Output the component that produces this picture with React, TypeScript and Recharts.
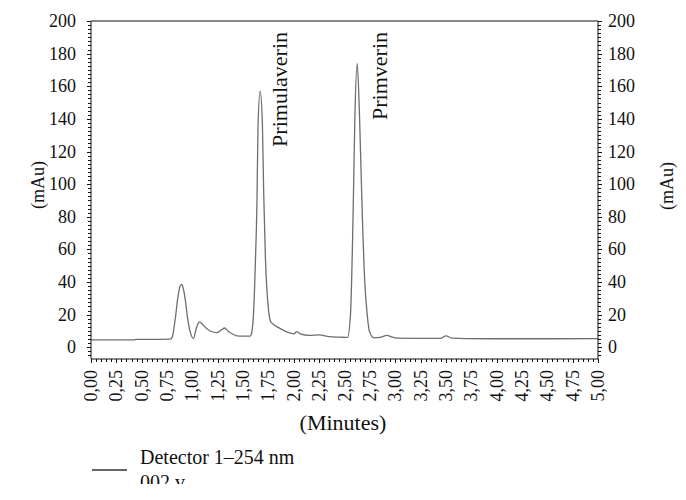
import React from 'react'
import { LineChart, Line, XAxis, YAxis } from 'recharts'

const times = [
  0, 0.25, 0.43, 0.44, 0.6, 0.78, 0.8, 0.83, 0.86, 0.88, 0.896, 0.91, 0.93, 0.952, 0.98, 1.01, 1.04, 1.07, 1.1, 1.14,
  1.18, 1.24, 1.29, 1.317, 1.35, 1.4, 1.44, 1.5, 1.57, 1.585, 1.604, 1.62, 1.637, 1.647, 1.668, 1.69, 1.703, 1.72,
  1.752, 1.77, 1.8, 1.85, 1.93, 2.0, 2.03, 2.07, 2.15, 2.25, 2.35, 2.45, 2.53, 2.559, 2.585, 2.602, 2.625, 2.648,
  2.675, 2.7, 2.724, 2.745, 2.79, 2.85, 2.92, 2.97, 3.02, 3.2, 3.45, 3.5, 3.56, 3.7, 4.0, 4.5, 5.0,
]
const mau = [
  4.5, 4.5, 4.5, 4.8, 4.8, 5, 6, 17, 32, 37.5, 38.5, 36, 29, 18, 9, 5.5, 12, 15.5, 14, 11.5,
  9.8, 9, 10.8, 11.8, 10, 8, 7, 6.8, 6.8, 9, 22, 50, 90, 135, 157, 138, 95, 55,
  22, 16, 14, 12, 9.4, 8.2, 9.6, 8, 7.3, 7.6, 6.5, 6.2, 6, 20, 82, 140, 174, 142,
  82, 40, 20, 10, 5.8, 6, 7.3, 6.2, 5.6, 5.5, 5.5, 7, 5.6, 5.3, 5.2, 5.2, 5.3,
]

// major ticks carry labels, minor ones are just short marks
const xMajorStep = 0.25
const yMajorStep = 20
const xTicks = Array.from({ length: 101 }, (_, i) => Math.round(i * 5) / 100)
const yTicks = Array.from({ length: 83 }, (_, i) => -5 + i * 2.5)

const data = times.map((t, i) => ({ t, v: mau[i] }))

const FONT = '"Liberation Serif", "Times New Roman", serif'
const INK = '#111'
const isMajor = (v: number, step: number) => Math.abs(v / step - Math.round(v / step)) < 1e-6
const fmtX = (v: number) => v.toFixed(2).replace('.', ',')

const XTick = ({ x, y, payload }: any) => {
  const major = isMajor(payload.value, xMajorStep)
  const ly = y + 11
  const px = Math.round(x) + 0.5
  return (
    <g>
      <line x1={px} x2={px} y1={y} y2={y + (major ? 4 : 3)} stroke={INK} shapeRendering="crispEdges" />
      {major && (
        <text x={x} y={ly} transform={`rotate(-90 ${x} ${ly})`} textAnchor="end" dominantBaseline="central"
          fontFamily={FONT} fontSize={18} fill={INK}>
          {fmtX(payload.value)}
        </text>
      )}
    </g>
  )
}

const YTick = ({ x, y, payload, side }: any) => {
  const v = payload.value
  const major = v >= 0 && isMajor(v, yMajorStep)
  const len = major ? 4 : 3
  const dir = side === 'left' ? -1 : 1
  const py = Math.round(y) + 0.5
  return (
    <g>
      <line x1={x} x2={x + dir * len} y1={py} y2={py} stroke={INK} shapeRendering="crispEdges" />
      {major && (
        <text x={side === 'left' ? x - 15 : x + 10} y={y} textAnchor={side === 'left' ? 'end' : 'start'}
          dominantBaseline="central" fontFamily={FONT} fontSize={18} fill={INK}>
          {v}
        </text>
      )}
    </g>
  )
}

export default function App() {
  return (
    <div style={{ position: 'absolute', left: 0, top: 0, width: 686, height: 500, background: '#fff' }}>
      <LineChart width={686} height={500} data={data} margin={{ top: 20, right: 48, left: 51, bottom: 91 }}>
        <XAxis dataKey="t" type="number" domain={[0, 5]} allowDataOverflow ticks={xTicks} interval={0} stroke={INK}
          tickLine={false} tickSize={0} tickMargin={0} height={50} tick={<XTick />} />
        <XAxis xAxisId="top" orientation="top" dataKey="t" type="number" domain={[0, 5]} allowDataOverflow
          height={1} stroke={INK} tick={false} tickLine={false} />
        <YAxis yAxisId="left" type="number" domain={[-7.2, 200]} allowDataOverflow ticks={yTicks} interval={0}
          width={40} stroke={INK} tickLine={false} tickSize={0} tickMargin={0} tick={<YTick side="left" />} />
        <YAxis yAxisId="right" orientation="right" type="number" domain={[-7.2, 200]} allowDataOverflow
          ticks={yTicks} interval={0} width={40} stroke={INK} tickLine={false} tickSize={0} tickMargin={0}
          tick={<YTick side="right" />} />
        <Line yAxisId="left" dataKey="v" type="monotone" stroke="#6e6e6e" strokeWidth={1.3}
          dot={false} isAnimationActive={false} />
        <Line xAxisId="top" yAxisId="right" dataKey="v" type="monotone" stroke="none" dot={false}
          legendType="none" isAnimationActive={false} />
      </LineChart>
      <svg width={686} height={500} style={{ position: 'absolute', left: 0, top: 0, pointerEvents: 'none' }}
        fontFamily={FONT} fill={INK}>
        <defs>
          <clipPath id="legclip"><rect x={0} y={0} width={686} height={484} /></clipPath>
        </defs>
        <text x={37.5} y={185} transform="rotate(-90 37.5 185)" textAnchor="middle" dominantBaseline="central" fontSize={18}>(mAu)</text>
        <text x={667} y={186} transform="rotate(-90 667 186)" textAnchor="middle" dominantBaseline="central" fontSize={18}>(mAu)</text>
        <text x={279} y={32} transform="rotate(-90 279 32)" textAnchor="end" dominantBaseline="central" fontSize={22}>Primulaverin</text>
        <text x={379} y={32} transform="rotate(-90 379 32)" textAnchor="end" dominantBaseline="central" fontSize={22}>Primverin</text>
        <text x={343} y={430} textAnchor="middle" fontSize={22}>(Minutes)</text>
        <line x1={92} x2={127} y1={470} y2={470} stroke="#333" strokeWidth={1.5} />
        <g clipPath="url(#legclip)">
          <text x={140} y={464} fontSize={20}>Detector 1–254 nm</text>
          <text x={140} y={489} fontSize={20}>002 v</text>
        </g>
      </svg>
    </div>
  )
}
